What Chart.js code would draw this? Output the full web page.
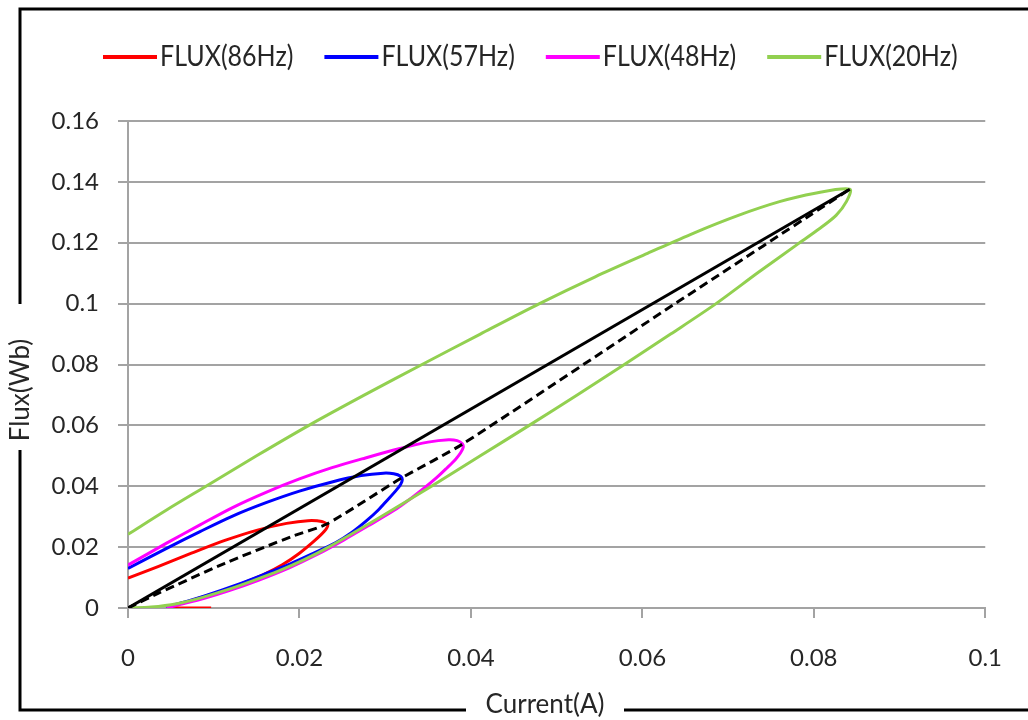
<!DOCTYPE html>
<html>
<head>
<meta charset="utf-8">
<title>Flux vs Current</title>
<script src="https://cdn.jsdelivr.net/npm/chart.js@4.4.1/dist/chart.umd.min.js"></script>
<style>
  html, body { margin: 0; padding: 0; background: #fff; }
  canvas { display: block; }
</style>
</head>
<body>
<canvas id="fluxchart" width="1028" height="720"></canvas>
<script>
// B-H style loops: flux (Wb) against magnetising current (A) for four frequencies

const seriesNames = ['FLUX(86Hz)', 'FLUX(57Hz)', 'FLUX(48Hz)', 'FLUX(20Hz)']
const seriesColors = ['#ff0000', '#0000ff', '#ff00ff', '#92d050']

// 86 Hz: rising branch, tip, falling branch, then the flat tail at zero flux
const current86 = [0, 0.0035, 0.0074, 0.0113, 0.0151, 0.0185, 0.0210, 0.0226, 0.0233,
  0.0229, 0.0218, 0.0200, 0.0180, 0.0158, 0.0125, 0.0093, 0.0065, 0.0050, 0.0060, 0.0097]
const flux86 = [0.0098, 0.0136, 0.0180, 0.0222, 0.0256, 0.0278, 0.0287, 0.0284, 0.0272,
  0.0252, 0.0222, 0.0180, 0.0142, 0.0110, 0.0072, 0.0041, 0.0017, 0.0004, 0, 0]

// 57 Hz
const current57 = [0, 0.0045, 0.0084, 0.0122, 0.0161, 0.0200, 0.0238, 0.0272, 0.0298, 0.0310, 0.0318, 0.0320,
  0.0318, 0.0312, 0.0303, 0.0292, 0.0278, 0.0261, 0.0242, 0.0218, 0.0190, 0.0160, 0.0125, 0.0092, 0.0065, 0.0048, 0.0045]
const flux57 = [0.0130, 0.0196, 0.0251, 0.0302, 0.0346, 0.0384, 0.0414, 0.0435, 0.0443, 0.0441, 0.0433, 0.0422,
  0.0406, 0.0384, 0.0356, 0.0322, 0.0286, 0.0248, 0.0214, 0.0182, 0.0146, 0.0112, 0.0074, 0.0042, 0.0019, 0.0005, 0]

// 48 Hz
const current48 = [0, 0.0045, 0.0084, 0.0122, 0.0161, 0.0200, 0.0238, 0.0277, 0.0316, 0.0350, 0.0374, 0.0384, 0.0390, 0.0391,
  0.0388, 0.0382, 0.0372, 0.0360, 0.0346, 0.0330, 0.0310, 0.0282, 0.0252, 0.0220, 0.0188, 0.0152, 0.0118, 0.0088, 0.0060, 0.0045]
const flux48 = [0.0141, 0.0213, 0.0273, 0.0330, 0.0380, 0.0424, 0.0461, 0.0493, 0.0523, 0.0545, 0.0553, 0.0550, 0.0540, 0.0527,
  0.0510, 0.0488, 0.0460, 0.0428, 0.0395, 0.0360, 0.0320, 0.0273, 0.0224, 0.0175, 0.0132, 0.0091, 0.0057, 0.0031, 0.0011, 0]

// 20 Hz
const current20 = [0, 0.0045, 0.0091, 0.0150, 0.0211, 0.0276, 0.0343, 0.0411, 0.0480, 0.0545, 0.0606,
  0.0660, 0.0712, 0.0760, 0.0800, 0.0842,
  0.0838, 0.0826, 0.0806, 0.0780, 0.0735, 0.0686, 0.0633, 0.0579, 0.0524, 0.0468, 0.0411, 0.0354,
  0.0295, 0.0234, 0.0205, 0.0176, 0.0147, 0.0117, 0.0087, 0.0057, 0.0027, 0]
const flux20 = [0.0242, 0.0322, 0.0400, 0.0500, 0.0600, 0.0700, 0.0800, 0.0900, 0.1000, 0.1088, 0.1165,
  0.1232, 0.1290, 0.1335, 0.1362, 0.1376,
  0.1335, 0.1290, 0.1245, 0.1193, 0.1102, 0.1000, 0.0900, 0.0800, 0.0700, 0.0600, 0.0500, 0.0400,
  0.0300, 0.0200, 0.0158, 0.0122, 0.0091, 0.0061, 0.0035, 0.0014, 0.0003, 0]

// straight line from the origin to the 20 Hz tip
const currentLinear = [0, 0.0842]
const fluxLinear = [0, 0.1376]

// curve through the loop tips
const currentTips = [0, 0.0035, 0.0113, 0.0190, 0.0232, 0.0319, 0.0390, 0.0641, 0.0842]
const fluxTips = [0, 0.0048, 0.0147, 0.0234, 0.0276, 0.0427, 0.0538, 0.1005, 0.1376]

const xTicks = [0, 0.02, 0.04, 0.06, 0.08, 0.1]
const yTicks = [0, 0.02, 0.04, 0.06, 0.08, 0.1, 0.12, 0.14, 0.16]

const FONT = 'Lato, "Open Sans", sans-serif'
const TEXT = '#262626'
const GRID = '#a3a3a3'

const toPoints = (xs, ys) => xs.map((x, i) => ({ x: x, y: ys[i] }))

const loops = [
  [current86, flux86],
  [current57, flux57],
  [current48, flux48],
  [current20, flux20],
]

const datasets = loops.map(([xs, ys], i) => ({
  label: seriesNames[i],
  data: toPoints(xs, ys),
  borderColor: seriesColors[i],
  backgroundColor: seriesColors[i],
  borderWidth: 3,
  order: 5 - i,
}))

datasets.push({
  label: 'linear',
  data: toPoints(currentLinear, fluxLinear),
  borderColor: '#000',
  borderWidth: 3,
  tension: 0,
  order: 1,
})
datasets.push({
  label: 'tips',
  data: toPoints(currentTips, fluxTips),
  borderColor: '#000',
  borderWidth: 3,
  borderDash: [9, 5],
  tension: 0.2,
  order: 0,
})

// text slightly stretched upward, like the rest of the sheet
function tallText(ctx, text, x, y, stretch) {
  ctx.save()
  ctx.translate(x, y)
  ctx.scale(1, stretch)
  ctx.fillText(text, 0, 0)
  ctx.restore()
}

// outer box, axis titles sitting on the box line, and the line legend
const framePlugin = {
  id: 'frame',
  beforeDraw(chart) {
    const ctx = chart.ctx
    const w = chart.width
    const h = chart.height
    ctx.save()
    ctx.fillStyle = '#fff'
    ctx.fillRect(0, 0, w, h)

    ctx.strokeStyle = '#000'
    ctx.lineWidth = 3
    ctx.beginPath()
    ctx.moveTo(w + 5, 9)
    ctx.lineTo(20, 9)
    ctx.lineTo(20, 710)
    ctx.lineTo(w + 5, 710)
    ctx.stroke()

    ctx.font = '26px ' + FONT
    ctx.textAlign = 'center'
    ctx.textBaseline = 'middle'

    // y title, on a white patch cut out of the left edge
    ctx.fillStyle = '#fff'
    ctx.fillRect(6, 304, 30, 146)
    ctx.save()
    ctx.translate(21, 390)
    ctx.rotate(-Math.PI / 2)
    ctx.fillStyle = TEXT
    ctx.fillText('Flux(Wb)', 0, 0)
    ctx.restore()

    // x title, on a white patch cut out of the bottom edge
    ctx.fillStyle = '#fff'
    ctx.fillRect(466, 696, 158, 24)
    ctx.fillStyle = TEXT
    ctx.fillText('Current(A)', 545, 705)

    // legend
    ctx.font = '25px ' + FONT
    ctx.textAlign = 'left'
    let x = 103
    const y = 57
    seriesNames.forEach((name, i) => {
      ctx.strokeStyle = seriesColors[i]
      ctx.lineWidth = 4
      ctx.beginPath()
      ctx.moveTo(x, y)
      ctx.lineTo(x + 54, y)
      ctx.stroke()
      ctx.fillStyle = TEXT
      tallText(ctx, name, x + 57, y, 1.12)
      x += 57 + ctx.measureText(name).width + 31
    })
    ctx.restore()
  }
}

const tickFont = { family: FONT, size: 24 }
const fmt = (v) => String(parseFloat(v.toFixed(2)))

const ctx = document.getElementById('fluxchart').getContext('2d')
const chart = new Chart(ctx, {
  type: 'scatter',
  data: { datasets: datasets },
  options: {
    responsive: false,
    animation: false,
    devicePixelRatio: 1,
    layout: { padding: { left: 50, right: 39, top: 121, bottom: 0 } },
    elements: {
      point: { radius: 0, hoverRadius: 0 },
      line: { tension: 0.3, fill: false },
    },
    datasets: { scatter: { showLine: true } },
    plugins: {
      legend: { display: false },
      tooltip: { enabled: false },
    },
    scales: {
      x: {
        type: 'linear',
        min: 0,
        max: 0.1,
        afterBuildTicks: (s) => { s.ticks = xTicks.map(v => ({ value: v })) },
        afterFit: (s) => { s.height = 112 },
        grid: { drawOnChartArea: false, drawTicks: true, tickLength: 10, color: GRID, lineWidth: 2 },
        border: { color: GRID, width: 2 },
        ticks: { padding: 26, font: tickFont, color: TEXT, maxRotation: 0, callback: fmt },
      },
      y: {
        type: 'linear',
        min: 0,
        max: 0.16,
        afterBuildTicks: (s) => { s.ticks = yTicks.map(v => ({ value: v })) },
        afterFit: (s) => { s.width = 78 },
        grid: { tickLength: 10, color: GRID, lineWidth: 2 },
        border: { color: GRID, width: 2 },
        ticks: { padding: 19, font: tickFont, color: TEXT, callback: fmt },
      },
    },
  },
  plugins: [framePlugin],
})
</script>
</body>
</html>
